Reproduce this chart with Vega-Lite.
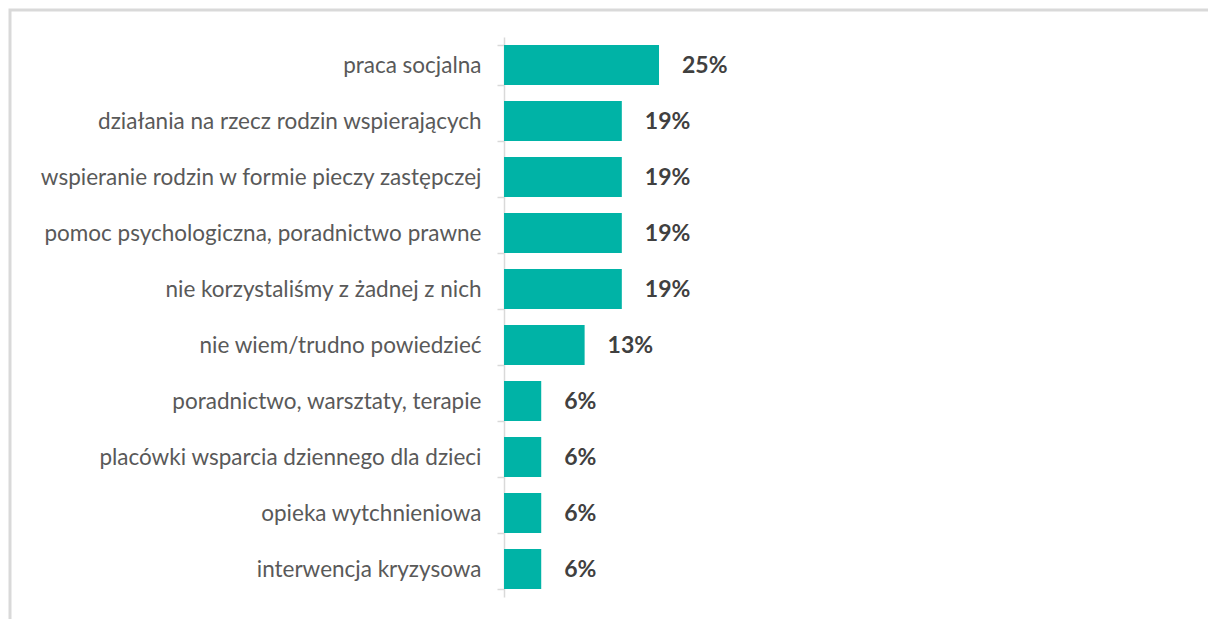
{
  "$schema": "https://vega.github.io/schema/vega-lite/v6.json",
  "autosize": {"type": "none"},
  "width": 1210,
  "height": 620,
  "padding": {"left": 10, "top": 10, "right": 0, "bottom": 0},
  "background": "#ffffff",
  "title": {
    "text": "Wykres 47. Korzystanie z usług społecznych przez rodziny z dziećmi.",
    "anchor": "start",
    "frame": "group",
    "fontSize": 19,
    "fontWeight": "normal",
    "font": "Lato",
    "color": "#404040",
    "baseline": "bottom",
    "offset": -12,
    "dx": -10
  },
  "config": {
    "view": {"stroke": "#d9d9d9", "strokeWidth": 3},
    "font": "Lato"
  },
  "data": {
    "values": [
      {"kategoria": "praca socjalna", "wartosc": 25},
      {"kategoria": "działania na rzecz rodzin wspierających", "wartosc": 19},
      {"kategoria": "wspieranie rodzin w formie pieczy zastępczej", "wartosc": 19},
      {"kategoria": "pomoc psychologiczna, poradnictwo prawne", "wartosc": 19},
      {"kategoria": "nie korzystaliśmy z żadnej z nich", "wartosc": 19},
      {"kategoria": "nie wiem/trudno powiedzieć", "wartosc": 13},
      {"kategoria": "poradnictwo, warsztaty, terapie", "wartosc": 6},
      {"kategoria": "placówki wsparcia dziennego dla dzieci", "wartosc": 6},
      {"kategoria": "opieka wytchnieniowa", "wartosc": 6},
      {"kategoria": "interwencja kryzysowa", "wartosc": 6}
    ]
  },
  "encoding": {
    "y": {
      "field": "kategoria",
      "type": "nominal",
      "sort": null,
      "scale": {"range": [27, 587], "paddingInner": 0.29, "paddingOuter": 0.145},
      "axis": {
        "title": null,
        "offset": -494,
        "domainColor": "#d9d9d9",
        "domainWidth": 1.5,
        "tickColor": "#d9d9d9",
        "tickWidth": 1.5,
        "tickSize": 7,
        "tickBand": "extent",
        "labelPadding": 16,
        "labelColor": "#595959",
        "labelFontSize": 22.5,
        "labelFont": "Lato",
        "labelLimit": 600
      }
    },
    "x": {
      "field": "wartosc",
      "type": "quantitative",
      "scale": {"domain": [-79.68, 115.48], "nice": false, "zero": false},
      "axis": null
    }
  },
  "layer": [
    {
      "mark": {"type": "bar", "color": "#00b3a6"},
      "encoding": {
        "x2": {"datum": 0}
      }
    },
    {
      "mark": {
        "type": "text",
        "align": "left",
        "baseline": "middle",
        "dx": 23,
        "dy": 1,
        "fontSize": 23,
        "fontWeight": "bold",
        "font": "Lato",
        "color": "#404040",
        "text": {"expr": "datum.wartosc + '%'"}
      },
      "encoding": {}
    }
  ]
}
